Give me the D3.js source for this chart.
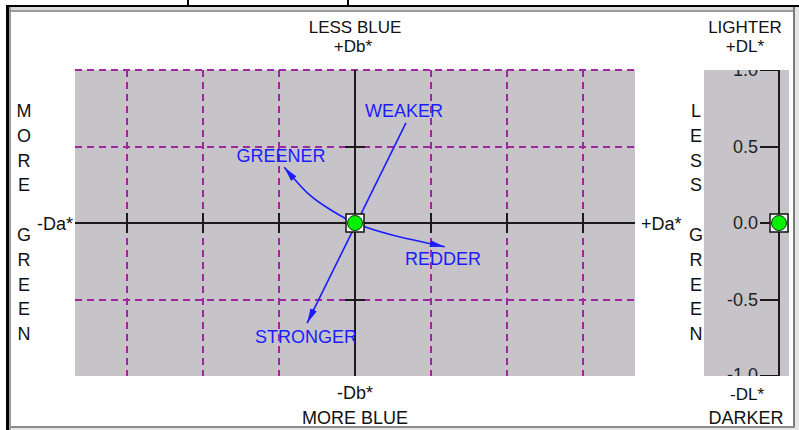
<!DOCTYPE html>
<html>
<head>
<meta charset="utf-8">
<script src="https://cdn.jsdelivr.net/npm/d3@7"></script>
<style>
  html, body { margin: 0; padding: 0; background: #fff; }
  svg { display: block; }
  text { font-family: "Liberation Sans", Arial, sans-serif; font-size: 18px; }
  text.stack { font-size: 17px; }
</style>
</head>
<body>
<svg id="chart" width="799" height="430"></svg>
<script>
// Colour-difference plot: Da*/Db* plane plus a DL* lightness bar.
const gridDa = [-3, -2, -1, 1, 2, 3];        // dashed verticals (Da* units)
const gridDb = [2, 1, -1];                   // dashed horizontals (Db* units)
const tickDa = [-3, -2, -1, 1, 2, 3];        // cross ticks on the Da* axis
const tickDb = [1, -1];                      // cross ticks on the Db* axis
const dlTicks = [1.0, 0.5, 0.0, -0.5, -1.0]; // DL* axis ticks
const sampleDa = 0.0, sampleDb = 0.0, sampleDL = 0.0;
// Chroma direction (weaker -> stronger) and hue direction (greener -> redder)
const chromaDa = [0.67, -0.63];
const chromaDb = [1.31, -1.31];
const hueDa = [-0.93, -0.60, -0.30, 0.00, 0.50, 1.18];
const hueDb = [ 0.73,  0.37,  0.16, 0.00, -0.16, -0.31];
const leftWord = ["M", "O", "R", "E", "", "G", "R", "E", "E", "N"];
const rightWord = ["L", "E", "S", "S", "", "G", "R", "E", "E", "N"];

const svg = d3.select("#chart");
const BLUE = "#1c1cff";
const PURPLE = "#9c2a9c";
const PANEL = "#c6c4c9";

// ---- window frame ----
svg.append("rect").attr("x", 0).attr("y", 0).attr("width", 799).attr("height", 430).attr("fill", "#fff");
svg.append("rect").attr("x", 6).attr("y", 5).attr("width", 793).attr("height", 2).attr("fill", "#000");
svg.append("rect").attr("x", 6).attr("y", 5).attr("width", 3).attr("height", 425).attr("fill", "#000");
svg.append("rect").attr("x", 9).attr("y", 7).attr("width", 786).attr("height", 3).attr("fill", "#d9d9d9");
svg.append("rect").attr("x", 9).attr("y", 10).attr("width", 786).attr("height", 2).attr("fill", "#9a9a9a");
svg.append("rect").attr("x", 9).attr("y", 7).attr("width", 2).attr("height", 423).attr("fill", "#9a9a9a");
svg.append("rect").attr("x", 793).attr("y", 7).attr("width", 2).attr("height", 423).attr("fill", "#7a7a7a");
svg.append("rect").attr("x", 795).attr("y", 7).attr("width", 4).attr("height", 423).attr("fill", "#e6e6e6");
svg.append("rect").attr("x", 11).attr("y", 426).attr("width", 784).attr("height", 2).attr("fill", "#8a8a8a");
svg.append("rect").attr("x", 11).attr("y", 428).attr("width", 784).attr("height", 2).attr("fill", "#e6e6e6");
[187, 347].forEach(xx => svg.append("rect").attr("x", xx).attr("y", 0).attr("width", 2).attr("height", 6).attr("fill", "#000"));

// ---- scales ----
const x = d3.scaleLinear().domain([-3.68, 3.68]).range([75, 635]);
const y = d3.scaleLinear().domain([-2, 2]).range([376, 70]);
const yL = d3.scaleLinear().domain([-1, 1]).range([376, 70]);
const xL = 779;

// ---- a*/b* plane ----
svg.append("rect").attr("x", x(-3.68)).attr("y", y(2)).attr("width", x(3.68) - x(-3.68))
  .attr("height", y(-2) - y(2)).attr("fill", PANEL);

const grid = svg.append("g").attr("stroke", PURPLE).attr("stroke-width", 2).attr("stroke-dasharray", "7,5").attr("fill", "none");
grid.selectAll("line.v").data(gridDa).join("line").attr("class", "v")
  .attr("x1", d => Math.round(x(d))).attr("x2", d => Math.round(x(d))).attr("y1", y(2)).attr("y2", y(-2));
grid.selectAll("line.h").data(gridDb).join("line").attr("class", "h")
  .attr("x1", x(-3.68)).attr("x2", x(3.68)).attr("y1", d => Math.round(y(d))).attr("y2", d => Math.round(y(d)));

const axes = svg.append("g").attr("stroke", "#1a1a1a").attr("stroke-width", 2);
axes.append("line").attr("x1", x(-3.68)).attr("x2", x(3.68)).attr("y1", y(0)).attr("y2", y(0));
axes.append("line").attr("x1", x(0)).attr("x2", x(0)).attr("y1", y(2)).attr("y2", y(-2));
axes.selectAll("line.ta").data(tickDa).join("line").attr("class", "ta")
  .attr("x1", d => Math.round(x(d))).attr("x2", d => Math.round(x(d))).attr("y1", y(0) - 10).attr("y2", y(0) + 10);
axes.selectAll("line.tb").data(tickDb).join("line").attr("class", "tb")
  .attr("x1", x(0) - 10).attr("x2", x(0) + 10).attr("y1", d => Math.round(y(d))).attr("y2", d => Math.round(y(d)));

// arrowhead
const defs = svg.append("defs");
defs.append("marker").attr("id", "arrow").attr("markerUnits", "userSpaceOnUse")
  .attr("markerWidth", 16).attr("markerHeight", 10).attr("refX", 15).attr("refY", 4)
  .attr("orient", "auto-start-reverse").attr("viewBox", "0 0 16 8")
  .append("path").attr("d", "M0,0.5 L15,4 L0,7.5 Z").attr("fill", BLUE);

// chroma direction
svg.append("line").attr("x1", x(chromaDa[0])).attr("y1", y(chromaDb[0]))
  .attr("x2", x(chromaDa[1])).attr("y2", y(chromaDb[1]))
  .attr("stroke", BLUE).attr("stroke-width", 1.6).attr("marker-end", "url(#arrow)");

// hue direction
const hueLine = d3.line().x(d => x(d[0])).y(d => y(d[1])).curve(d3.curveNatural);
svg.append("path").attr("d", hueLine(hueDa.map((d, i) => [d, hueDb[i]])))
  .attr("fill", "none").attr("stroke", BLUE).attr("stroke-width", 1.6)
  .attr("marker-start", "url(#arrow)").attr("marker-end", "url(#arrow)");

// direction labels
const dirLabels = svg.append("g").attr("fill", BLUE).attr("text-anchor", "middle");
dirLabels.append("text").attr("x", 404).attr("y", 117).text("WEAKER");
dirLabels.append("text").attr("x", 281).attr("y", 162).text("GREENER");
dirLabels.append("text").attr("x", 443).attr("y", 265).text("REDDER");
dirLabels.append("text").attr("x", 306).attr("y", 343).text("STRONGER");

// sample marker
function marker(g, cx, cy) {
  g.append("rect").attr("x", cx - 9).attr("y", cy - 9).attr("width", 18).attr("height", 18)
    .attr("fill", "#f4f4f4").attr("stroke", "#111").attr("stroke-width", 1.5);
  g.append("circle").attr("cx", cx).attr("cy", cy).attr("r", 7.5)
    .attr("fill", "#00f000").attr("stroke", "#0a3a0a").attr("stroke-width", 1);
}
marker(svg.append("g"), x(sampleDa), y(sampleDb));

// axis captions
const cap = svg.append("g").attr("fill", "#111");
cap.append("text").attr("class", "stack").attr("x", x(0)).attr("y", 32.5).attr("text-anchor", "middle").text("LESS BLUE");
cap.append("text").attr("class", "stack").attr("x", x(0) - 2).attr("y", 51.5).attr("text-anchor", "middle").text("+Db*");
cap.append("text").attr("x", x(0)).attr("y", 399).attr("text-anchor", "middle").text("-Db*");
cap.append("text").attr("x", x(0)).attr("y", 424).attr("text-anchor", "middle").text("MORE BLUE");
cap.append("text").attr("x", 73).attr("y", 230).attr("text-anchor", "end").text("-Da*");
cap.append("text").attr("x", 641).attr("y", 230).attr("text-anchor", "start").text("+Da*");
cap.append("text").attr("class", "stack").attr("x", 745).attr("y", 32.5).attr("text-anchor", "middle").text("LIGHTER");
cap.append("text").attr("class", "stack").attr("x", 745).attr("y", 51.5).attr("text-anchor", "middle").text("+DL*");
cap.append("text").attr("class", "stack").attr("x", 747).attr("y", 400).attr("text-anchor", "middle").text("-DL*");
cap.append("text").attr("x", 746).attr("y", 424).attr("text-anchor", "middle").text("DARKER");

cap.selectAll("text.lw").data(leftWord).join("text").attr("class", "lw")
  .attr("x", 24).attr("y", (d, i) => 117 + i * 24.8).attr("text-anchor", "middle").text(d => d);
cap.selectAll("text.rw").data(rightWord).join("text").attr("class", "rw")
  .attr("x", 696).attr("y", (d, i) => 117 + i * 24.8).attr("text-anchor", "middle").text(d => d);

// ---- DL* bar ----
defs.append("clipPath").attr("id", "dlclip").append("rect")
  .attr("x", 704).attr("y", yL(1)).attr("width", 85).attr("height", yL(-1) - yL(1));
svg.append("rect").attr("x", 704).attr("y", yL(1)).attr("width", 85).attr("height", yL(-1) - yL(1)).attr("fill", PANEL);
const dl = svg.append("g").attr("clip-path", "url(#dlclip)");
dl.append("line").attr("x1", xL).attr("x2", xL).attr("y1", yL(1)).attr("y2", yL(-1))
  .attr("stroke", "#1a1a1a").attr("stroke-width", 2);
dl.selectAll("line.t").data(dlTicks).join("line").attr("class", "t")
  .attr("x1", xL - 19).attr("x2", xL).attr("y1", d => Math.round(yL(d))).attr("y2", d => Math.round(yL(d)))
  .attr("stroke", "#1a1a1a").attr("stroke-width", 2);
dl.selectAll("text").data(dlTicks).join("text")
  .attr("x", xL - 21).attr("y", d => yL(d) + (d === -1 ? 4.5 : 6)).attr("text-anchor", "end").attr("fill", "#222")
  .text(d => d.toFixed(1));
marker(svg.append("g"), xL, yL(sampleDL));
</script>
</body>
</html>
